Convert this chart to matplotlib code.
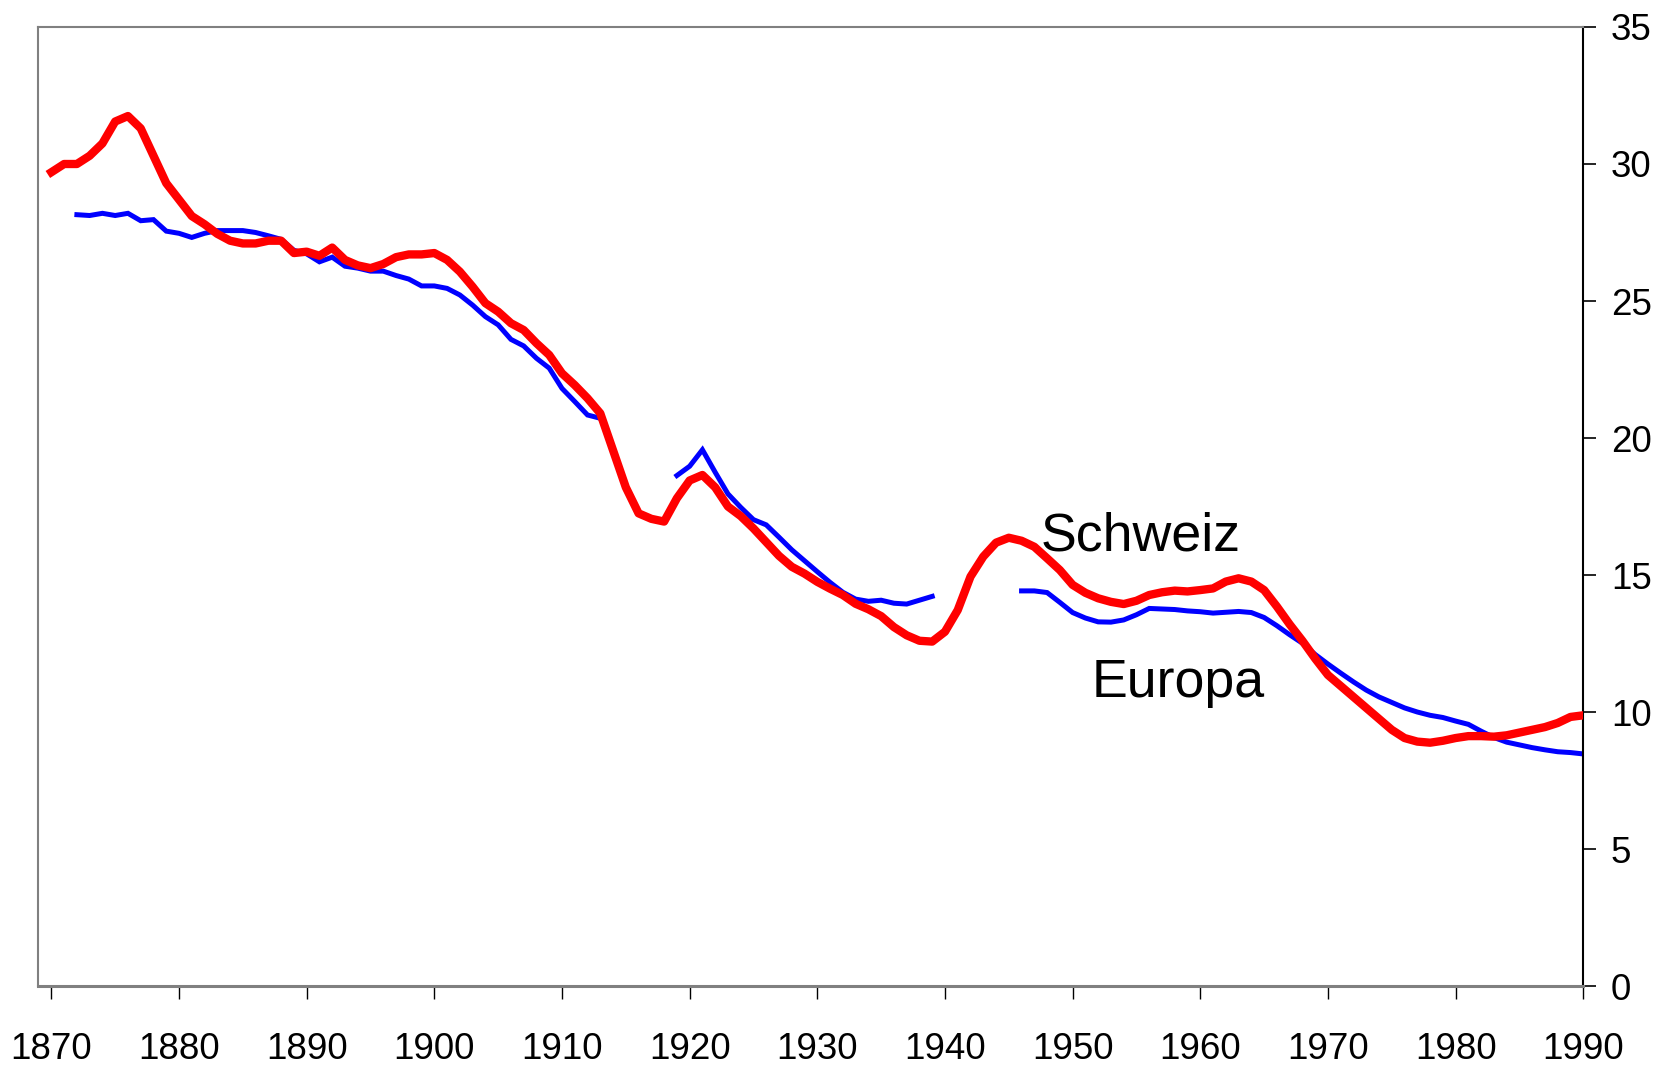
import numpy as np
import matplotlib
matplotlib.use("Agg")
import matplotlib.pyplot as plt

plt.rcParams['font.family'] = ['Liberation Sans', 'DejaVu Sans']

years = list(range(1870, 1991))
nan = np.nan

schweiz = [
    29.7, 30.0, 30.0, 30.3, 30.75, 31.55, 31.75, 31.3, 30.3, 29.3,
    28.7, 28.1, 27.8, 27.45, 27.2, 27.1, 27.1, 27.2, 27.2, 26.75,
    26.8, 26.65, 26.95, 26.5, 26.3, 26.2, 26.35, 26.6, 26.7, 26.7,
    26.75, 26.5, 26.07, 25.52, 24.92, 24.61, 24.19, 23.94, 23.46, 23.03,
    22.36, 21.93, 21.45, 20.9, 19.55, 18.2, 17.25, 17.05, 16.95, 17.8,
    18.45, 18.65, 18.2, 17.5, 17.15, 16.7, 16.2, 15.7, 15.3, 15.05,
    14.75, 14.5, 14.27, 13.95, 13.75, 13.5, 13.1, 12.8, 12.6, 12.57,
    12.93, 13.72, 14.94, 15.67, 16.18, 16.36, 16.25, 16.03, 15.61, 15.18,
    14.64, 14.35, 14.15, 14.02, 13.94, 14.06, 14.27, 14.37, 14.43, 14.4,
    14.45, 14.51, 14.76, 14.88, 14.76, 14.45, 13.85, 13.2, 12.6, 11.95,
    11.35, 10.95, 10.55, 10.15, 9.75, 9.35, 9.05, 8.92, 8.88, 8.95,
    9.05, 9.12, 9.12, 9.1, 9.15, 9.25, 9.35, 9.45, 9.6, 9.82, 9.88,
]

europa = [
    nan, nan, 28.15, 28.12, 28.2, 28.12, 28.2, 27.93, 27.97, 27.55,
    27.47, 27.32, 27.47, 27.57, 27.57, 27.57, 27.5, 27.38, 27.25, 26.85,
    26.72, 26.43, 26.6, 26.27, 26.2, 26.09, 26.09, 25.93, 25.8, 25.55,
    25.55, 25.46, 25.22, 24.85, 24.43, 24.13, 23.6, 23.36, 22.91, 22.55,
    21.81, 21.33, 20.84, 20.72, nan, nan, nan, nan, nan, 18.63,
    18.97, 19.57, 18.75, 17.96, 17.47, 17.02, 16.83, 16.38, 15.92, 15.52,
    15.12, 14.73, 14.37, 14.12, 14.04, 14.08, 13.97, 13.94, 14.08, 14.22,
    nan, nan, nan, nan, nan, nan, 14.42, 14.42, 14.36, 14.0,
    13.63, 13.43, 13.29, 13.28, 13.36, 13.55, 13.78, 13.76, 13.74, 13.69,
    13.66, 13.61, 13.64, 13.67, 13.63, 13.45, 13.15, 12.82, 12.51, 12.1,
    11.75, 11.42, 11.1, 10.8, 10.55, 10.35, 10.15, 10.0, 9.88, 9.8,
    9.67, 9.55, 9.3, 9.07, 8.9, 8.8, 8.7, 8.62, 8.55, 8.52, 8.47,
]

xticks = list(range(1870, 1991, 10))
yticks = list(range(0, 36, 5))

fig = plt.figure(figsize=(16.68, 10.67), dpi=100)
ax = fig.add_axes([0.0226, 0.0759, 0.9266, 0.8988])

ax.plot(years, europa, color='#0000FF', lw=3.6, solid_joinstyle='miter', zorder=2)
ax.plot(years, schweiz, color='#FF0000', lw=6.0, solid_joinstyle='round', zorder=3)

ax.text(1947.5, 15.91, 'Schweiz', fontsize=38.7, ha='left', va='baseline', color='black')
ax.text(1951.45, 10.56, 'Europa', fontsize=38.7, ha='left', va='baseline', color='black')

ax.set_xlim(1868.93, 1990)
ax.set_ylim(0, 35)
ax.set_xticks(xticks)
ax.set_xticklabels([str(t) for t in xticks])
ax.set_yticks(yticks)
ax.set_yticklabels([str(t) for t in yticks])

ax.yaxis.tick_right()
ax.tick_params(axis='y', direction='out', length=9.4, width=1.2, pad=10.5,
               labelsize=26.5, colors='black')
ax.tick_params(axis='x', direction='out', length=9.4, width=1.0, pad=23.5,
               labelsize=26.5, colors='black')

for side in ['left', 'top']:
    ax.spines[side].set_color('#808080')
    ax.spines[side].set_linewidth(1.5)
ax.spines['bottom'].set_color('#808080')
ax.spines['bottom'].set_linewidth(2.2)
ax.spines['right'].set_color('black')
ax.spines['right'].set_linewidth(1.5)

fig.savefig('out.png', dpi=100, facecolor='white')
